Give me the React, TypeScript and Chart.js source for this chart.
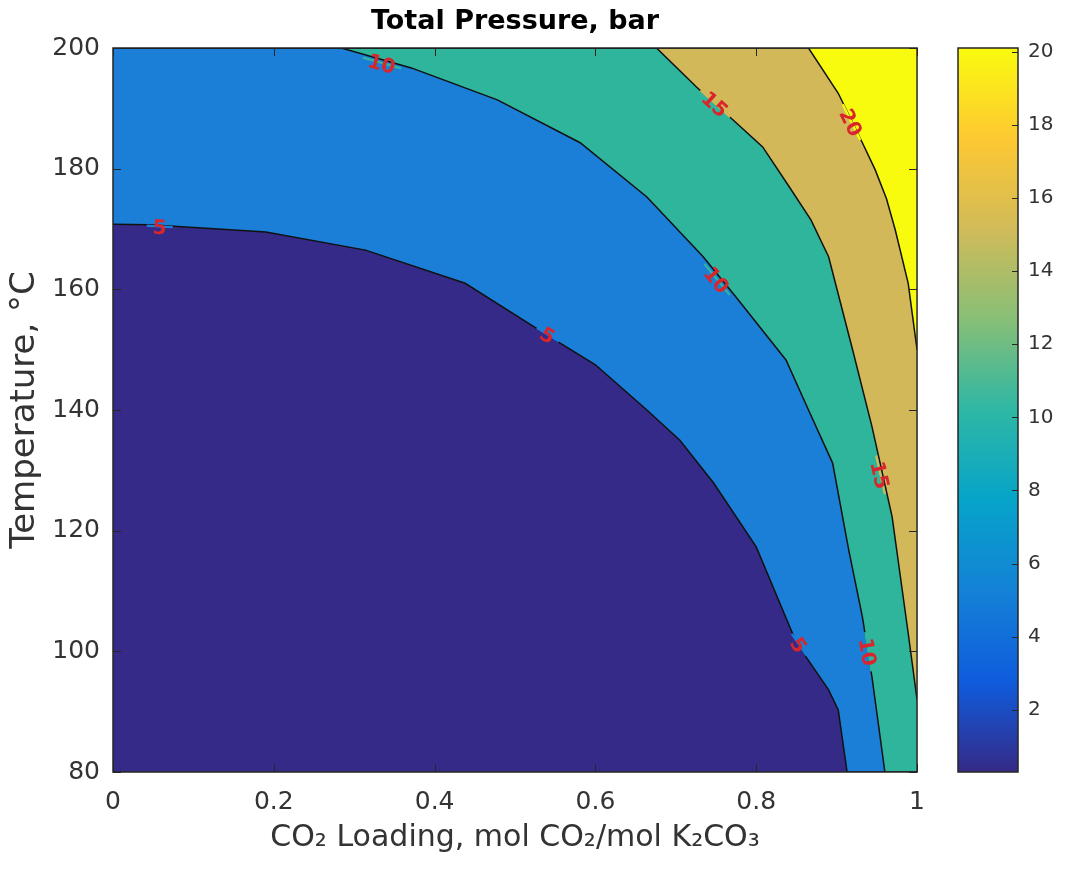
import React, { useEffect, useRef } from 'react';
import { Chart, registerables } from 'chart.js';

Chart.register(...registerables);

// ---------- text ----------
const TITLE = 'Total Pressure, bar';
const X_TITLE = 'CO₂ Loading, mol CO₂/mol K₂CO₃';
const Y_TITLE = 'Temperature, °C';

// ---------- axes ----------
const X_TICKS = [0, 0.2, 0.4, 0.6, 0.8, 1];
const Y_TICKS = [80, 100, 120, 140, 160, 180, 200];
const CB_TICKS = [2, 4, 6, 8, 10, 12, 14, 16, 18, 20];
const X_MIN = 0;
const X_MAX = 1;
const T_MIN = 80;
const T_MAX = 200;
const C_MIN = 0.3;
const C_MAX = 20.1;

// ---------- contour levels (bar) ----------
const LEVELS = [5, 10, 15, 20];

// lower boundary of the plot (region below 5 bar)
const BASE_X = [0, 1];
const BASE_T = [80, 80];

// 5 bar contour
const L5_X = [0, 0.046, 0.19, 0.314, 0.438, 0.54, 0.6, 0.664, 0.705, 0.747, 0.8, 0.85, 0.89, 0.902, 0.913, 1];
const L5_T = [170.8, 170.7, 169.5, 166.5, 161.0, 152.4, 147.5, 140.0, 135.0, 127.9, 117.3, 101.4, 93.6, 90.3, 80, 80];

// 10 bar contour
const L10_X = [0, 0.284, 0.371, 0.478, 0.581, 0.664, 0.734, 0.775, 0.837, 0.865, 0.895, 0.915, 0.932, 0.944, 0.96, 1];
const L10_T = [200, 200, 196.7, 191.4, 184.3, 175.3, 165.4, 158.7, 148.3, 140.0, 131.2, 116.8, 105.7, 95.7, 80, 80];

// 15 bar contour
const L15_X = [0, 0.676, 0.726, 0.775, 0.808, 0.841, 0.868, 0.89, 0.92, 0.944, 0.969, 0.989, 1];
const L15_T = [200, 200, 193.5, 187.6, 183.6, 177.0, 171.5, 165.4, 149.9, 137.2, 122.3, 103.0, 92];

// 20 bar contour
const L20_X = [0, 0.865, 0.902, 0.932, 0.948, 0.962, 0.973, 0.989, 1];
const L20_T = [200, 200, 192.5, 184.3, 179.8, 175.0, 169.8, 161.0, 150];

// contour labels
const LABEL_LEVELS = [5, 5, 5, 10, 10, 10, 15, 15, 20];
const LABEL_X = [0.058, 0.54, 0.852, 0.334, 0.75, 0.938, 0.748, 0.953, 0.917];
const LABEL_T = [170.2, 152.3, 101.0, 197.3, 161.5, 99.9, 190.6, 129.2, 187.6];

// ---------- colours ----------
const REGION_COLORS = ['#352A87', '#1B7FD8', '#2EB59C', '#D2B858', '#F9FB0E'];
const PARULA = ['#352A87', '#0F5CDD', '#1481D6', '#06A4CA', '#2EB7A4', '#87BF77', '#D1BB59', '#FEC832', '#F9FB0E'];
const FONT = 'DejaVu Sans';
const TEXT = '#333333';
const AXIS = '#262626';

const CONTOURS: Record<number, { x: number[]; t: number[] }> = {
  5: { x: L5_X, t: L5_T },
  10: { x: L10_X, t: L10_T },
  15: { x: L15_X, t: L15_T },
  20: { x: L20_X, t: L20_T },
};

const toPoints = (xs: number[], ts: number[]) => xs.map((x, i) => ({ x, y: ts[i] }));

const mainDecor = {
  id: 'mainDecor',
  afterDatasetsDraw(chart: any) {
    const { ctx, chartArea: a } = chart;
    const xs = chart.scales.x;
    const ys = chart.scales.y;
    ctx.save();
    // contour labels with line gap
    ctx.font = `bold 20px "${FONT}"`;
    ctx.textAlign = 'center';
    ctx.textBaseline = 'middle';
    LABEL_LEVELS.forEach((lv, i) => {
      const px = xs.getPixelForValue(LABEL_X[i]);
      const py = ys.getPixelForValue(LABEL_T[i]);
      const c = CONTOURS[lv];
      let best = Infinity;
      let ang = 0;
      for (let k = 0; k < c.x.length - 1; k++) {
        const ax = xs.getPixelForValue(c.x[k]);
        const ay = ys.getPixelForValue(c.t[k]);
        const bx = xs.getPixelForValue(c.x[k + 1]);
        const by = ys.getPixelForValue(c.t[k + 1]);
        const dx = bx - ax;
        const dy = by - ay;
        const len2 = dx * dx + dy * dy;
        if (len2 === 0) continue;
        let u = ((px - ax) * dx + (py - ay) * dy) / len2;
        u = Math.max(0, Math.min(1, u));
        const qx = ax + u * dx - px;
        const qy = ay + u * dy - py;
        const d = qx * qx + qy * qy;
        if (d < best) {
          best = d;
          ang = Math.atan2(dy, dx);
        }
      }
      if (ang > Math.PI / 2) ang -= Math.PI;
      if (ang <= -Math.PI / 2) ang += Math.PI;
      const text = String(lv);
      const w = ctx.measureText(text).width + 12;
      const li = LEVELS.indexOf(lv);
      ctx.save();
      ctx.translate(px, py);
      ctx.rotate(ang);
      ctx.fillStyle = REGION_COLORS[li + 1];
      ctx.fillRect(-w / 2, -2.5, w, 2.5);
      ctx.fillStyle = REGION_COLORS[li];
      ctx.fillRect(-w / 2, 0, w, 2.5);
      ctx.fillStyle = '#D8262C';
      ctx.fillText(text, 0, 1);
      ctx.restore();
    });
    // inside tick marks
    ctx.strokeStyle = AXIS;
    ctx.lineWidth = 1;
    ctx.beginPath();
    X_TICKS.forEach((v) => {
      const p = Math.round(xs.getPixelForValue(v)) + 0.5;
      ctx.moveTo(p, a.bottom);
      ctx.lineTo(p, a.bottom - 8);
      ctx.moveTo(p, a.top);
      ctx.lineTo(p, a.top + 8);
    });
    Y_TICKS.forEach((v) => {
      const p = Math.round(ys.getPixelForValue(v)) + 0.5;
      ctx.moveTo(a.left, p);
      ctx.lineTo(a.left + 8, p);
      ctx.moveTo(a.right, p);
      ctx.lineTo(a.right - 8, p);
    });
    ctx.stroke();
    // box
    ctx.strokeStyle = AXIS;
    ctx.lineWidth = 1.5;
    ctx.strokeRect(a.left, a.top, a.right - a.left, a.bottom - a.top);
    ctx.restore();
  },
};

const cbDecor = {
  id: 'cbDecor',
  afterDatasetsDraw(chart: any) {
    const { ctx, chartArea: a } = chart;
    const ys = chart.scales.y;
    ctx.save();
    ctx.strokeStyle = AXIS;
    ctx.lineWidth = 1;
    ctx.beginPath();
    CB_TICKS.forEach((v) => {
      const p = Math.round(ys.getPixelForValue(v)) + 0.5;
      ctx.moveTo(a.right, p);
      ctx.lineTo(a.right - 6, p);
    });
    ctx.stroke();
    ctx.lineWidth = 1.5;
    ctx.strokeRect(a.left, a.top, a.right - a.left, a.bottom - a.top);
    ctx.restore();
  },
};

export default function App() {
  const mainRef = useRef<HTMLCanvasElement | null>(null);
  const cbRef = useRef<HTMLCanvasElement | null>(null);

  useEffect(() => {
    if (!mainRef.current || !cbRef.current) return;

    const lineDs = (label: string, xs: number[], ts: number[], color: string, order: number, bw: number) => ({
      label,
      data: toPoints(xs, ts),
      borderColor: '#111111',
      borderWidth: bw,
      backgroundColor: color,
      fill: 'end',
      pointRadius: 0,
      pointHoverRadius: 0,
      tension: 0,
      order,
    });

    const main = new Chart(mainRef.current, {
      type: 'line',
      data: {
        datasets: [
          lineDs('base', BASE_X, BASE_T, REGION_COLORS[0], 5, 0),
          lineDs('5', L5_X, L5_T, REGION_COLORS[1], 4, 1.5),
          lineDs('10', L10_X, L10_T, REGION_COLORS[2], 3, 1.5),
          lineDs('15', L15_X, L15_T, REGION_COLORS[3], 2, 1.5),
          lineDs('20', L20_X, L20_T, REGION_COLORS[4], 1, 1.5),
        ] as any,
      },
      options: {
        responsive: false,
        animation: false,
        devicePixelRatio: 1,
        events: [],
        layout: { padding: { left: 0, right: 18, top: 0, bottom: 0 } },
        plugins: {
          legend: { display: false },
          tooltip: { enabled: false },
          title: {
            display: true,
            text: TITLE,
            fullSize: false,
            color: '#000000',
            font: { family: FONT, size: 27, weight: 'bold' },
            padding: { top: 6, bottom: 9.6 },
          },
        },
        scales: {
          x: {
            type: 'linear',
            min: X_MIN,
            max: X_MAX,
            afterBuildTicks: (s: any) => {
              s.ticks = X_TICKS.map((v) => ({ value: v }));
            },
            afterFit: (s: any) => {
              s.height = 105;
            },
            grid: { display: false, drawTicks: false },
            border: { display: false },
            ticks: {
              autoSkip: false,
              maxRotation: 0,
              padding: 15,
              color: TEXT,
              font: { family: FONT, size: 25 },
              callback: (v: any) => String(Math.round(Number(v) * 10) / 10),
            },
            title: {
              display: true,
              text: X_TITLE,
              color: TEXT,
              font: { family: FONT, size: 30 },
              padding: { top: 0, bottom: 21 },
            },
          },
          y: {
            type: 'linear',
            min: T_MIN,
            max: T_MAX,
            afterBuildTicks: (s: any) => {
              s.ticks = Y_TICKS.map((v) => ({ value: v }));
            },
            afterFit: (s: any) => {
              s.width = 113;
            },
            grid: { display: false, drawTicks: false },
            border: { display: false },
            ticks: {
              autoSkip: false,
              padding: 13,
              color: TEXT,
              font: { family: FONT, size: 25 },
            },
            title: {
              display: true,
              text: Y_TITLE,
              color: TEXT,
              font: { family: FONT, size: 34 },
              padding: { top: 5, bottom: 0 },
            },
          },
        },
      } as any,
      plugins: [mainDecor],
    });

    const cb = new Chart(cbRef.current, {
      type: 'bar',
      data: {
        labels: ['P'],
        datasets: [
          {
            data: [[C_MIN, C_MAX]] as any,
            backgroundColor: (c: any) => {
              const area = c.chart.chartArea;
              if (!area) return PARULA[0];
              const g = c.chart.ctx.createLinearGradient(0, area.bottom, 0, area.top);
              PARULA.forEach((col, i) => g.addColorStop(i / (PARULA.length - 1), col));
              return g;
            },
            borderWidth: 0,
            barPercentage: 1,
            categoryPercentage: 1,
          },
        ],
      },
      options: {
        responsive: false,
        animation: false,
        devicePixelRatio: 1,
        events: [],
        layout: { padding: { left: 18, right: 0, top: 48, bottom: 105 } },
        plugins: { legend: { display: false }, tooltip: { enabled: false }, title: { display: false } },
        scales: {
          x: { display: false },
          y: {
            position: 'right',
            min: C_MIN,
            max: C_MAX,
            afterBuildTicks: (s: any) => {
              s.ticks = CB_TICKS.map((v) => ({ value: v }));
            },
            afterFit: (s: any) => {
              s.width = 47;
            },
            grid: { display: false, drawTicks: false },
            border: { display: false },
            ticks: {
              autoSkip: false,
              padding: 10,
              color: TEXT,
              font: { family: FONT, size: 20 },
            },
          },
        },
      } as any,
      plugins: [cbDecor],
    });

    return () => {
      main.destroy();
      cb.destroy();
    };
  }, []);

  return (
    <div style={{ position: 'relative', width: 1049, height: 861 }}>
      <canvas
        ref={mainRef}
        width={940}
        height={877}
        style={{ position: 'absolute', left: -8, top: -8, display: 'block' }}
      />
      <canvas
        ref={cbRef}
        width={125}
        height={877}
        style={{ position: 'absolute', left: 932, top: -8, display: 'block' }}
      />
    </div>
  );
}
